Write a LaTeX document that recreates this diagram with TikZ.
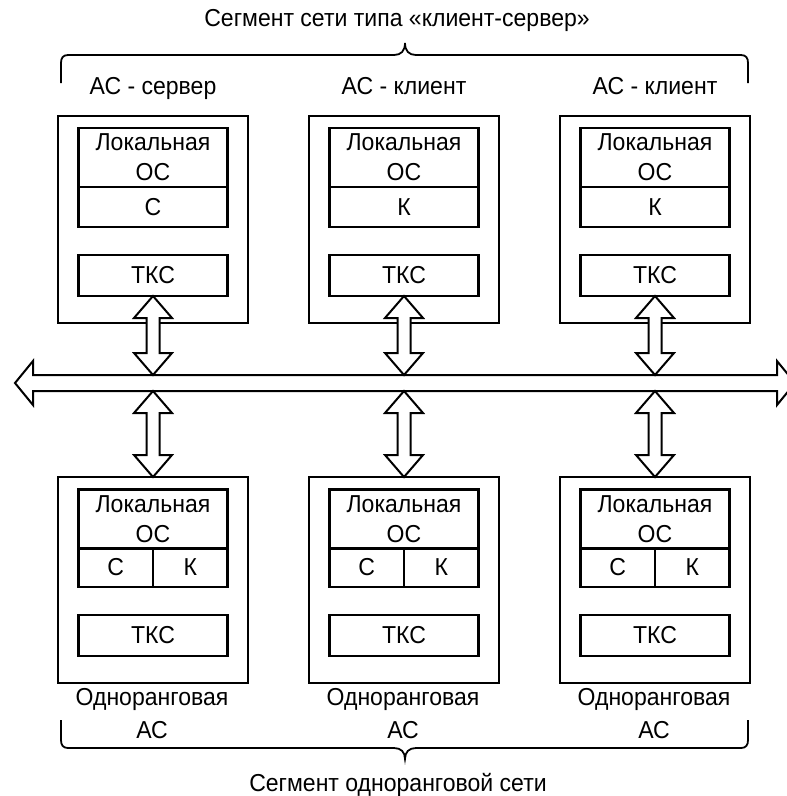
\documentclass[tikz,border=0pt]{standalone}
\usepackage{fontspec}
\setmainfont{Liberation Sans}[FakeStretch=0.94]
\usetikzlibrary{calc}

% Vertical two-headed block arrow between two points (upper first)
\newcommand{\vblock}[2]{%
  \draw[blockarrow] let \p1=#1, \p2=#2 in
    (\x1,\y1) -- (\x1+19pt,\y1-22pt) -- (\x1+6.5pt,\y1-22pt)
    -- (\x1+6.5pt,\y2+22pt) -- (\x1+19pt,\y2+22pt) -- (\x1,\y2)
    -- (\x1-19pt,\y2+22pt) -- (\x1-6.5pt,\y2+22pt)
    -- (\x1-6.5pt,\y1-22pt) -- (\x1-19pt,\y1-22pt) -- cycle;}

\begin{document}
\begin{tikzpicture}[x=1pt,y=-1pt,
  every node/.style={font=\fontsize{24.5}{30}\selectfont, inner sep=0pt, outer sep=0pt},
  framebox/.style={draw, line width=2.9pt, minimum width=190pt, minimum height=207pt},
  osbox/.style={draw, line width=2.9pt, minimum width=149pt, minimum height=59pt, align=center},
  rolebox/.style={draw, line width=2.9pt, minimum width=149pt, minimum height=40pt},
  halfbox/.style={draw, line width=2.9pt, minimum width=74.5pt, minimum height=39pt},
  tksbox/.style={draw, line width=2.9pt, minimum width=149pt, minimum height=41pt},
  twoline/.style={align=center, font=\fontsize{24.5}{33}\selectfont},
  blockarrow/.style={draw, line width=2pt, fill=white, line join=miter},
  bracepath/.style={draw, line width=1.8pt}
]
\useasboundingbox (0,0) rectangle (787,796);

% Headings
\node (segcs) at (397,20) {Сегмент сети типа «клиент-сервер»};
\node (segp2p) at (398,785) {Сегмент одноранговой сети};

% Upper brace
\draw[bracepath] (61,83) -- (61,63) .. controls (61,58) and (63,55) .. (68,55)
  -- (394,55) .. controls (401,55) and (405,51) .. (405,43)
  .. controls (405,51) and (409,55) .. (416,55)
  -- (741,55) .. controls (746,55) and (748,58) .. (748,63) -- (748,83);

% Lower brace
\draw[bracepath] (61,720) -- (61,740) .. controls (61,745) and (63,748) .. (68,748)
  -- (394,748) .. controls (401,748) and (405,752) .. (405,759)
  .. controls (405,752) and (409,748) .. (416,748)
  -- (741,748) .. controls (746,748) and (748,745) .. (748,740) -- (748,720);

% Common bus
\coordinate (busW) at (15,383);
\coordinate (busE) at (795,383);
\draw[blockarrow] let \p1=(busW), \p2=(busE) in
  (\x1,\y1) -- (\x1+18pt,\y1+22pt) -- (\x1+18pt,\y1+8pt)
  -- (\x2-18pt,\y2+8pt) -- (\x2-18pt,\y2+22pt) -- (\x2,\y2)
  -- (\x2-18pt,\y2-22pt) -- (\x2-18pt,\y2-8pt)
  -- (\x1+18pt,\y1-8pt) -- (\x1+18pt,\y1-22pt) -- cycle;

% Client-server segment
\foreach \i/\x/\r/\n in {1/153/С/сервер, 2/404/К/клиент, 3/655/К/клиент}{
  \node[anchor=base] (sname\i) at (\x,94) {АС - \n};
  \node[framebox] (st\i) at (\x,219.5) {};
  \node[osbox] (sos\i) at (\x,157.5) {Локальная\\ОС};
  \node[rolebox] (srole\i) at (\x,207) {\r};
  \node[tksbox] (stks\i) at (\x,275.5) {ТКС};
  \coordinate (bt\i) at (\x,375);
  \vblock{(stks\i.south)}{(bt\i)}
}

% Peer-to-peer segment
\foreach \i/\x in {1/153, 2/404, 3/655}{
  \node[framebox, minimum height=206pt] (pt\i) at (\x,580) {};
  \node[osbox] (pos\i) at (\x,519) {Локальная\\ОС};
  \node[halfbox] (pc\i) at (\x-37.25,567.5) {С};
  \node[halfbox] (pk\i) at (\x+37.25,567.5) {К};
  \node[tksbox] (ptks\i) at (\x,635.5) {ТКС};
  \node[twoline] (pname\i) at (\x-1,713.5) {Одноранговая\\АС};
  \coordinate (bb\i) at (\x,391);
  \vblock{(bb\i)}{(pt\i.north)}
}
\end{tikzpicture}
\end{document}
